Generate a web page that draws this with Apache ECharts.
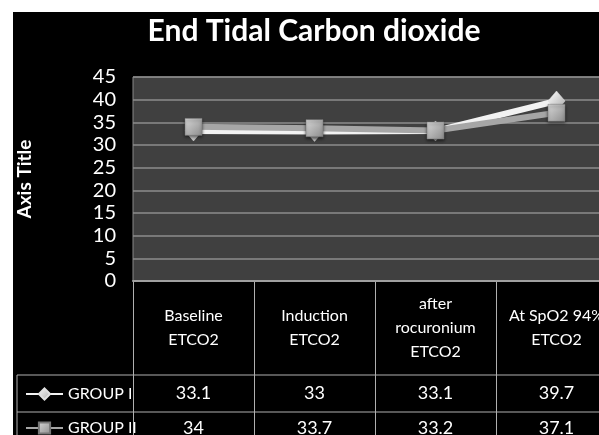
<!DOCTYPE html>
<html><head><meta charset="utf-8">
<script src="https://cdn.jsdelivr.net/npm/echarts@6/dist/echarts.min.js"></script>
<style>
html,body{margin:0;padding:0;background:#fff;}
#bg{position:absolute;left:13px;top:12px;width:586px;height:423px;background:#000;}
#chart{position:absolute;left:0;top:0;width:599px;height:435px;}
</style></head>
<body><div id="bg"></div><div id="chart"></div>
<script>
const categories = ['Baseline\nETCO2', 'Induction\nETCO2', 'after\nrocuronium\nETCO2', 'At SpO2 94%\nETCO2'];
const groupINames = 'GROUP I';
const groupIINames = 'GROUP II';
const groupI = [33.1, 33, 33.1, 39.7];
const groupII = [34, 33.7, 33.2, 37.1];
const yTicks = { min: 0, max: 45, interval: 5 };

const FONT = 'Lato, "Open Sans", sans-serif';
const chart = echarts.init(document.getElementById('chart'), null, {renderer: 'canvas'});
const markerGrad = (a, b) => new echarts.graphic.LinearGradient(0, 0, 1, 1, [{offset: 0, color: a}, {offset: 1, color: b}]);
const legendText = {color: '#fff', fontFamily: FONT, fontSize: 16};

const option = {
  backgroundColor: 'transparent',
  animation: false,
  title: {
    text: 'End Tidal Carbon dioxide',
    left: 309, top: 11, textAlign: 'center',
    textStyle: {color: '#fff', fontFamily: FONT, fontWeight: 'bold', fontSize: 30}
  },
  legend: [
    {orient: 'horizontal', left: 20, top: 381, itemWidth: 37, itemHeight: 14, itemGap: 5,
     textStyle: legendText, data: [groupINames]},
    {orient: 'horizontal', left: 20, top: 415, itemWidth: 37, itemHeight: 14, itemGap: 5,
     textStyle: legendText, data: [groupIINames]}
  ],
  grid: [
    {left: 133, top: 77, width: 484, height: 204, outerBoundsMode: 'none', containLabel: false,
     show: true, backgroundColor: '#404040', borderColor: '#888', borderWidth: 1},
    {left: 133, top: 281, width: 484, height: 170, outerBoundsMode: 'none', containLabel: false, show: false}
  ],
  xAxis: [
    {type: 'category', gridIndex: 0, data: categories, boundaryGap: true,
     axisLine: {show: true, lineStyle: {color: '#a0a0a0', width: 2}}, axisTick: {show: false},
     axisLabel: {color: '#fff', fontFamily: FONT, fontSize: 16, lineHeight: 24, verticalAlign: 'middle', margin: 47, interval: 0}},
    {type: 'category', gridIndex: 0, data: groupI.map(String), position: 'bottom',
     axisLine: {show: false}, axisTick: {show: false},
     axisLabel: {color: '#fff', fontFamily: FONT, fontSize: 18, verticalAlign: 'middle', margin: 112, interval: 0}},
    {type: 'category', gridIndex: 0, data: groupII.map(String), position: 'bottom',
     axisLine: {show: false}, axisTick: {show: false},
     axisLabel: {color: '#fff', fontFamily: FONT, fontSize: 18, verticalAlign: 'middle', margin: 147, interval: 0}},
    {type: 'category', gridIndex: 1, data: categories, boundaryGap: true,
     axisLine: {show: false}, axisTick: {show: false}, axisLabel: {show: false},
     splitLine: {show: true, interval: 0, lineStyle: {color: '#b0b0b0', width: 1}}}
  ],
  yAxis: [
    {type: 'value', gridIndex: 0, min: yTicks.min, max: yTicks.max, interval: yTicks.interval,
     name: 'Axis Title', nameLocation: 'middle', nameGap: 99,
     nameTextStyle: {color: '#fff', fontFamily: FONT, fontWeight: 'bold', fontSize: 19},
     axisLine: {show: false}, axisTick: {show: false},
     axisLabel: {color: '#fff', fontFamily: FONT, fontSize: 20, margin: 17},
     splitLine: {show: true, lineStyle: {color: '#8c8c8c', width: 1.5}}},
    {type: 'value', gridIndex: 1, show: false, min: 0, max: 1}
  ],
  graphic: [
    {type: 'line', shape: {x1: 17, y1: 375, x2: 599, y2: 375}, style: {stroke: '#b0b0b0', lineWidth: 1}},
    {type: 'line', shape: {x1: 17, y1: 412, x2: 599, y2: 412}, style: {stroke: '#b0b0b0', lineWidth: 1}},
    {type: 'line', shape: {x1: 17, y1: 375, x2: 17, y2: 435}, style: {stroke: '#b0b0b0', lineWidth: 1}}
  ],
  series: [
    {name: groupINames, type: 'line', xAxisIndex: 0, yAxisIndex: 0, data: groupI,
     symbol: 'diamond', symbolSize: [17, 20],
     lineStyle: {color: '#f2f2f2', width: 6},
     itemStyle: {color: markerGrad('#ffffff', '#a8a8a8'), borderColor: '#e0e0e0', borderWidth: 0.5}},
    {name: groupIINames, type: 'line', xAxisIndex: 0, yAxisIndex: 0, data: groupII,
     symbol: 'rect', symbolSize: 17,
     lineStyle: {color: '#a6a6a6', width: 6},
     itemStyle: {color: markerGrad('#d8d8d8', '#8c8c8c'), borderColor: '#777', borderWidth: 0.5,
                 shadowColor: 'rgba(0,0,0,0.6)', shadowBlur: 3, shadowOffsetY: 2}}
  ]
};
chart.setOption(option);
</script></body></html>
